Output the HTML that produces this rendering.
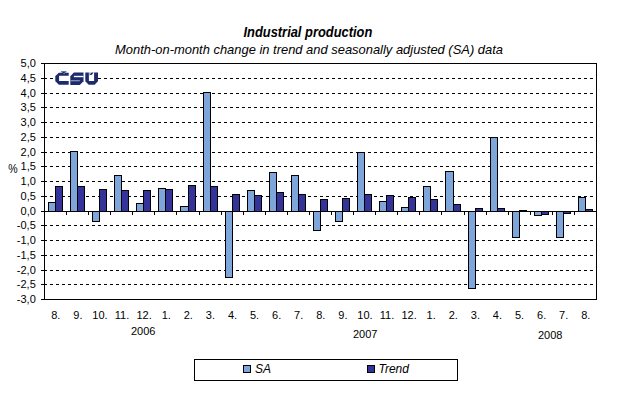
<!DOCTYPE html>
<html><head><meta charset="utf-8">
<style>
html,body{margin:0;padding:0;background:#fff;}
body{width:618px;height:396px;position:relative;overflow:hidden;font-family:"Liberation Sans",sans-serif;color:#000;}
svg{position:absolute;left:0;top:0;}
.t{position:absolute;white-space:nowrap;line-height:1;}
.yl{position:absolute;right:582.2px;font-size:11px;line-height:14px;white-space:nowrap;text-align:right;}
.xl{position:absolute;top:309px;width:40px;text-align:center;font-size:11px;line-height:12px;white-space:nowrap;}
.yr{position:absolute;font-size:11px;line-height:12px;white-space:nowrap;}
</style></head><body>
<div class="t" style="left:-1.5px;width:618px;text-align:center;top:25px;font-size:14px;font-weight:bold;font-style:italic;transform:scaleX(0.92);transform-origin:307.5px 0;">Industrial production</div>
<div class="t" style="left:0;width:618px;text-align:center;top:42.5px;font-size:13.4px;font-style:italic;transform:scaleX(0.965);transform-origin:308.7px 0;">Month-on-month change in trend and seasonally adjusted (SA) data</div>
<div class="yr" style="left:8.3px;top:163.3px;transform:scale(0.96,1.08);transform-origin:5px 6px;">%</div>
<div class="yl" style="top:56px">5,0</div><div class="yl" style="top:71px">4,5</div><div class="yl" style="top:86px">4,0</div><div class="yl" style="top:100px">3,5</div><div class="yl" style="top:115px">3,0</div><div class="yl" style="top:130px">2,5</div><div class="yl" style="top:145px">2,0</div><div class="yl" style="top:159px">1,5</div><div class="yl" style="top:174px">1,0</div><div class="yl" style="top:189px">0,5</div><div class="yl" style="top:204px">0,0</div><div class="yl" style="top:218px">-0,5</div><div class="yl" style="top:233px">-1,0</div><div class="yl" style="top:248px">-1,5</div><div class="yl" style="top:263px">-2,0</div><div class="yl" style="top:277px">-2,5</div><div class="yl" style="top:292px">-3,0</div><div class="xl" style="left:35.80px">8.</div><div class="xl" style="left:57.88px">9.</div><div class="xl" style="left:79.97px">10.</div><div class="xl" style="left:102.05px">11.</div><div class="xl" style="left:124.13px">12.</div><div class="xl" style="left:146.22px">1.</div><div class="xl" style="left:168.30px">2.</div><div class="xl" style="left:190.38px">3.</div><div class="xl" style="left:212.47px">4.</div><div class="xl" style="left:234.55px">5.</div><div class="xl" style="left:256.63px">6.</div><div class="xl" style="left:278.71px">7.</div><div class="xl" style="left:300.80px">8.</div><div class="xl" style="left:322.88px">9.</div><div class="xl" style="left:344.96px">10.</div><div class="xl" style="left:367.05px">11.</div><div class="xl" style="left:389.13px">12.</div><div class="xl" style="left:411.21px">1.</div><div class="xl" style="left:433.30px">2.</div><div class="xl" style="left:455.38px">3.</div><div class="xl" style="left:477.46px">4.</div><div class="xl" style="left:499.54px">5.</div><div class="xl" style="left:521.63px">6.</div><div class="xl" style="left:543.71px">7.</div><div class="xl" style="left:565.79px">8.</div>
<div class="yr" style="left:131px;top:325px;">2006</div>
<div class="yr" style="left:353px;top:328px;">2007</div>
<div class="yr" style="left:538px;top:329px;">2008</div>
<div class="t" style="left:255px;top:363px;font-size:12px;font-style:italic;">SA</div>
<div class="t" style="left:378.5px;top:363px;font-size:12px;font-style:italic;">Trend</div>
<svg width="618" height="396" viewBox="0 0 618 396" shape-rendering="crispEdges">
<line x1="44" y1="78.5" x2="596" y2="78.5" stroke="#000" stroke-width="1" stroke-dasharray="3 3"/>
<line x1="44" y1="93.5" x2="596" y2="93.5" stroke="#000" stroke-width="1" stroke-dasharray="3 3"/>
<line x1="44" y1="107.5" x2="596" y2="107.5" stroke="#000" stroke-width="1" stroke-dasharray="3 3"/>
<line x1="44" y1="122.5" x2="596" y2="122.5" stroke="#000" stroke-width="1" stroke-dasharray="3 3"/>
<line x1="44" y1="137.5" x2="596" y2="137.5" stroke="#000" stroke-width="1" stroke-dasharray="3 3"/>
<line x1="44" y1="152.5" x2="596" y2="152.5" stroke="#000" stroke-width="1" stroke-dasharray="3 3"/>
<line x1="44" y1="166.5" x2="596" y2="166.5" stroke="#000" stroke-width="1" stroke-dasharray="3 3"/>
<line x1="44" y1="181.5" x2="596" y2="181.5" stroke="#000" stroke-width="1" stroke-dasharray="3 3"/>
<line x1="44" y1="196.5" x2="596" y2="196.5" stroke="#000" stroke-width="1" stroke-dasharray="3 3"/>
<line x1="44" y1="225.5" x2="596" y2="225.5" stroke="#000" stroke-width="1" stroke-dasharray="3 3"/>
<line x1="44" y1="240.5" x2="596" y2="240.5" stroke="#000" stroke-width="1" stroke-dasharray="3 3"/>
<line x1="44" y1="255.5" x2="596" y2="255.5" stroke="#000" stroke-width="1" stroke-dasharray="3 3"/>
<line x1="44" y1="270.5" x2="596" y2="270.5" stroke="#000" stroke-width="1" stroke-dasharray="3 3"/>
<line x1="44" y1="284.5" x2="596" y2="284.5" stroke="#000" stroke-width="1" stroke-dasharray="3 3"/>
<rect x="48" y="202" width="8" height="10" fill="#000"/>
<rect x="49" y="203" width="6" height="8" fill="#7EA6DB"/>
<rect x="55" y="186" width="8" height="26" fill="#000"/>
<rect x="56" y="187" width="6" height="24" fill="#333399"/>
<rect x="70" y="151" width="8" height="61" fill="#000"/>
<rect x="71" y="152" width="6" height="59" fill="#7EA6DB"/>
<rect x="77" y="186" width="8" height="26" fill="#000"/>
<rect x="78" y="187" width="6" height="24" fill="#333399"/>
<rect x="92" y="211" width="8" height="11" fill="#000"/>
<rect x="93" y="212" width="6" height="9" fill="#7EA6DB"/>
<rect x="99" y="189" width="8" height="23" fill="#000"/>
<rect x="100" y="190" width="6" height="21" fill="#333399"/>
<rect x="114" y="175" width="8" height="37" fill="#000"/>
<rect x="115" y="176" width="6" height="35" fill="#7EA6DB"/>
<rect x="121" y="190" width="8" height="22" fill="#000"/>
<rect x="122" y="191" width="6" height="20" fill="#333399"/>
<rect x="136" y="203" width="8" height="9" fill="#000"/>
<rect x="137" y="204" width="6" height="7" fill="#7EA6DB"/>
<rect x="143" y="190" width="8" height="22" fill="#000"/>
<rect x="144" y="191" width="6" height="20" fill="#333399"/>
<rect x="158" y="188" width="8" height="24" fill="#000"/>
<rect x="159" y="189" width="6" height="22" fill="#7EA6DB"/>
<rect x="165" y="189" width="8" height="23" fill="#000"/>
<rect x="166" y="190" width="6" height="21" fill="#333399"/>
<rect x="180" y="206" width="9" height="6" fill="#000"/>
<rect x="181" y="207" width="7" height="4" fill="#7EA6DB"/>
<rect x="188" y="185" width="8" height="27" fill="#000"/>
<rect x="189" y="186" width="6" height="25" fill="#333399"/>
<rect x="203" y="92" width="8" height="120" fill="#000"/>
<rect x="204" y="93" width="6" height="118" fill="#7EA6DB"/>
<rect x="210" y="186" width="8" height="26" fill="#000"/>
<rect x="211" y="187" width="6" height="24" fill="#333399"/>
<rect x="225" y="211" width="8" height="67" fill="#000"/>
<rect x="226" y="212" width="6" height="65" fill="#7EA6DB"/>
<rect x="232" y="194" width="8" height="18" fill="#000"/>
<rect x="233" y="195" width="6" height="16" fill="#333399"/>
<rect x="247" y="190" width="8" height="22" fill="#000"/>
<rect x="248" y="191" width="6" height="20" fill="#7EA6DB"/>
<rect x="254" y="195" width="8" height="17" fill="#000"/>
<rect x="255" y="196" width="6" height="15" fill="#333399"/>
<rect x="269" y="172" width="8" height="40" fill="#000"/>
<rect x="270" y="173" width="6" height="38" fill="#7EA6DB"/>
<rect x="276" y="192" width="8" height="20" fill="#000"/>
<rect x="277" y="193" width="6" height="18" fill="#333399"/>
<rect x="291" y="175" width="8" height="37" fill="#000"/>
<rect x="292" y="176" width="6" height="35" fill="#7EA6DB"/>
<rect x="298" y="194" width="8" height="18" fill="#000"/>
<rect x="299" y="195" width="6" height="16" fill="#333399"/>
<rect x="313" y="211" width="8" height="20" fill="#000"/>
<rect x="314" y="212" width="6" height="18" fill="#7EA6DB"/>
<rect x="320" y="199" width="8" height="13" fill="#000"/>
<rect x="321" y="200" width="6" height="11" fill="#333399"/>
<rect x="335" y="211" width="8" height="11" fill="#000"/>
<rect x="336" y="212" width="6" height="9" fill="#7EA6DB"/>
<rect x="342" y="198" width="8" height="14" fill="#000"/>
<rect x="343" y="199" width="6" height="12" fill="#333399"/>
<rect x="357" y="152" width="8" height="60" fill="#000"/>
<rect x="358" y="153" width="6" height="58" fill="#7EA6DB"/>
<rect x="364" y="194" width="8" height="18" fill="#000"/>
<rect x="365" y="195" width="6" height="16" fill="#333399"/>
<rect x="379" y="201" width="8" height="11" fill="#000"/>
<rect x="380" y="202" width="6" height="9" fill="#7EA6DB"/>
<rect x="386" y="195" width="8" height="17" fill="#000"/>
<rect x="387" y="196" width="6" height="15" fill="#333399"/>
<rect x="401" y="207" width="8" height="5" fill="#000"/>
<rect x="402" y="208" width="6" height="3" fill="#7EA6DB"/>
<rect x="408" y="197" width="8" height="15" fill="#000"/>
<rect x="409" y="198" width="6" height="13" fill="#333399"/>
<rect x="423" y="186" width="8" height="26" fill="#000"/>
<rect x="424" y="187" width="6" height="24" fill="#7EA6DB"/>
<rect x="430" y="199" width="8" height="13" fill="#000"/>
<rect x="431" y="200" width="6" height="11" fill="#333399"/>
<rect x="445" y="171" width="9" height="41" fill="#000"/>
<rect x="446" y="172" width="7" height="39" fill="#7EA6DB"/>
<rect x="453" y="204" width="8" height="8" fill="#000"/>
<rect x="454" y="205" width="6" height="6" fill="#333399"/>
<rect x="468" y="211" width="8" height="78" fill="#000"/>
<rect x="469" y="212" width="6" height="76" fill="#7EA6DB"/>
<rect x="475" y="208" width="8" height="4" fill="#000"/>
<rect x="476" y="209" width="6" height="2" fill="#333399"/>
<rect x="490" y="137" width="8" height="75" fill="#000"/>
<rect x="491" y="138" width="6" height="73" fill="#7EA6DB"/>
<rect x="497" y="208" width="8" height="4" fill="#000"/>
<rect x="498" y="209" width="6" height="2" fill="#333399"/>
<rect x="512" y="211" width="8" height="27" fill="#000"/>
<rect x="513" y="212" width="6" height="25" fill="#7EA6DB"/>
<rect x="519" y="210" width="8" height="2" fill="#000"/>
<rect x="534" y="211" width="8" height="5" fill="#000"/>
<rect x="535" y="212" width="6" height="3" fill="#7EA6DB"/>
<rect x="541" y="211" width="8" height="4" fill="#000"/>
<rect x="542" y="212" width="6" height="2" fill="#333399"/>
<rect x="556" y="211" width="8" height="27" fill="#000"/>
<rect x="557" y="212" width="6" height="25" fill="#7EA6DB"/>
<rect x="563" y="211" width="8" height="3" fill="#000"/>
<rect x="564" y="212" width="6" height="1" fill="#333399"/>
<rect x="578" y="197" width="8" height="15" fill="#000"/>
<rect x="579" y="198" width="6" height="13" fill="#7EA6DB"/>
<rect x="585" y="209" width="8" height="3" fill="#000"/>
<rect x="586" y="210" width="6" height="1" fill="#333399"/>
<rect x="41" y="63" width="556" height="1" fill="#000"/>
<rect x="41" y="299" width="556" height="1" fill="#000"/>
<rect x="44" y="63" width="1" height="237" fill="#000"/>
<rect x="596" y="63" width="1" height="237" fill="#000"/>
<rect x="44" y="211" width="553" height="1" fill="#000"/>
<rect x="41" y="63" width="3" height="1" fill="#000"/>
<rect x="41" y="78" width="3" height="1" fill="#000"/>
<rect x="41" y="93" width="3" height="1" fill="#000"/>
<rect x="41" y="107" width="3" height="1" fill="#000"/>
<rect x="41" y="122" width="3" height="1" fill="#000"/>
<rect x="41" y="137" width="3" height="1" fill="#000"/>
<rect x="41" y="152" width="3" height="1" fill="#000"/>
<rect x="41" y="166" width="3" height="1" fill="#000"/>
<rect x="41" y="181" width="3" height="1" fill="#000"/>
<rect x="41" y="196" width="3" height="1" fill="#000"/>
<rect x="41" y="211" width="3" height="1" fill="#000"/>
<rect x="41" y="225" width="3" height="1" fill="#000"/>
<rect x="41" y="240" width="3" height="1" fill="#000"/>
<rect x="41" y="255" width="3" height="1" fill="#000"/>
<rect x="41" y="270" width="3" height="1" fill="#000"/>
<rect x="41" y="284" width="3" height="1" fill="#000"/>
<rect x="41" y="299" width="3" height="1" fill="#000"/>
<rect x="66" y="212" width="1" height="3" fill="#000"/>
<rect x="88" y="212" width="1" height="3" fill="#000"/>
<rect x="110" y="212" width="1" height="3" fill="#000"/>
<rect x="132" y="212" width="1" height="3" fill="#000"/>
<rect x="154" y="212" width="1" height="3" fill="#000"/>
<rect x="176" y="212" width="1" height="3" fill="#000"/>
<rect x="199" y="212" width="1" height="3" fill="#000"/>
<rect x="221" y="212" width="1" height="3" fill="#000"/>
<rect x="243" y="212" width="1" height="3" fill="#000"/>
<rect x="265" y="212" width="1" height="3" fill="#000"/>
<rect x="287" y="212" width="1" height="3" fill="#000"/>
<rect x="309" y="212" width="1" height="3" fill="#000"/>
<rect x="331" y="212" width="1" height="3" fill="#000"/>
<rect x="353" y="212" width="1" height="3" fill="#000"/>
<rect x="375" y="212" width="1" height="3" fill="#000"/>
<rect x="397" y="212" width="1" height="3" fill="#000"/>
<rect x="419" y="212" width="1" height="3" fill="#000"/>
<rect x="441" y="212" width="1" height="3" fill="#000"/>
<rect x="464" y="212" width="1" height="3" fill="#000"/>
<rect x="486" y="212" width="1" height="3" fill="#000"/>
<rect x="508" y="212" width="1" height="3" fill="#000"/>
<rect x="530" y="212" width="1" height="3" fill="#000"/>
<rect x="552" y="212" width="1" height="3" fill="#000"/>
<rect x="574" y="212" width="1" height="3" fill="#000"/>
<rect x="194" y="359" width="264" height="1" fill="#000"/>
<rect x="194" y="380" width="264" height="1" fill="#000"/>
<rect x="194" y="359" width="1" height="22" fill="#000"/>
<rect x="457" y="359" width="1" height="22" fill="#000"/>
<rect x="243" y="365" width="8" height="8" fill="#000"/>
<rect x="244" y="366" width="6" height="6" fill="#7EA6DB"/>
<rect x="367" y="365" width="8" height="8" fill="#000"/>
<rect x="368" y="366" width="6" height="6" fill="#333399"/>
<g fill="#1C2E6E" shape-rendering="geometricPrecision">
<rect x="53" y="70" width="45" height="16" fill="#fff"/>
<path fill="#1B2B6B" d="M58.9 72.7H68.7V75.8H59.1V81H68.7V84.7H58.9L55.3 81.3V76.1Z"/>
<path fill="#6A78A6" d="M60.8 71H66.6L65.8 72.7H61.6Z"/>
<path fill="#1B2B6B" d="M62.4 71.9H64.9L64.4 73H62.9Z"/>
<path fill="#7C89B3" d="M63 73.2H65.2L64 74.6Z"/>
<path fill="#1B2B6B" d="M73.9 72.5H83.5V81.3L79.8 84.9H70.3V76.2Z"/>
<rect x="73.9" y="75.8" width="9.6" height="1.4" fill="#fff"/>
<rect x="70.3" y="80.1" width="9.5" height="1.2" fill="#8C98BC"/>
<path fill="#1B2B6B" d="M85.3 72.4H88.9V81H94.1V72.4H98V81.3L94.6 84.7H88.7L85.3 81.3Z"/>
<path fill="#A9B2CF" d="M88.9 72.4H91.6L89.6 75.4L88.9 76.6Z"/>
<path fill="#1B2B6B" d="M89.7 75.1H91.7L93.6 72.4H91.6Z"/>

</g>
</svg>
</body></html>
